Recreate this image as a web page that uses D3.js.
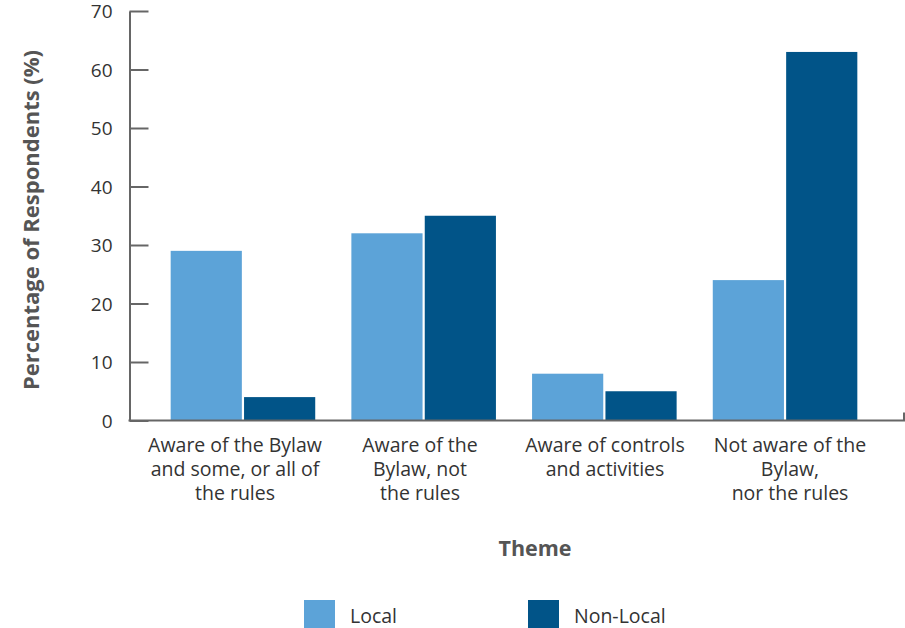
<!DOCTYPE html>
<html><head><meta charset="utf-8">
<script src="https://cdn.jsdelivr.net/npm/d3@7"></script>
<style>
body{margin:0;background:#fff;}
text{font-family:"Open Sans",sans-serif;}
</style></head>
<body><svg id="c" width="905" height="628"></svg>
<script>
const categories = [
  ["Aware of the Bylaw","and some, or all of","the rules"],
  ["Aware of the","Bylaw, not","the rules"],
  ["Aware of controls","and activities"],
  ["Not aware of the","Bylaw,","nor the rules"]
];
const seriesNames = ["Local","Non-Local"];
const localValues = [29, 32, 8, 24];
const nonLocalValues = [4, 35, 5, 63];
const yTicks = [0,10,20,30,40,50,60,70];
const colors = ["#5ca3d8","#015488"];

const svg = d3.select("#c");
const y = d3.scaleLinear().domain([0,70]).range([420.5,11]);
const x0 = d3.scaleBand().domain(d3.range(4)).range([152.6,875.4]).paddingInner(0.2).paddingOuter(0.1);
const x1 = d3.scaleBand().domain(seriesNames).range([0,x0.bandwidth()]).paddingInner(0.03);
// label positions (labels sit on a slightly wider spacing than the bars)
const xl = d3.scalePoint().domain(d3.range(4)).range([235,790]);

const data = categories.map((c,i)=>({i, vals:[{k:"Local",v:localValues[i]},{k:"Non-Local",v:nonLocalValues[i]}]}));

svg.append("g").selectAll("g.grp").data(data).join("g").attr("class","grp")
  .attr("transform",d=>`translate(${x0(d.i)},0)`)
  .selectAll("rect").data(d=>d.vals).join("rect")
  .attr("x",d=>x1(d.k)).attr("width",x1.bandwidth())
  .attr("y",d=>y(d.v)).attr("height",d=>y(0)-y(d.v))
  .attr("fill",d=>colors[seriesNames.indexOf(d.k)]);

// y axis
const yAxis = svg.append("g").attr("transform","translate(129.5,0)")
  .call(d3.axisRight(y).tickValues(yTicks).tickSize(19).tickSizeOuter(0).tickFormat(d3.format("d")));
yAxis.select(".domain").attr("stroke","#666").attr("stroke-width",2);
yAxis.selectAll(".tick line").attr("stroke","#666").attr("stroke-width",2);
yAxis.selectAll(".tick text").attr("x",-17).attr("text-anchor","end")
  .attr("font-size",19).attr("fill","#333").attr("font-family","Open Sans").attr("dy","0.36em");

// x axis baseline
const xs = d3.scaleLinear().domain([0,1]).range([128.5,904]);
const xAxis = svg.append("g").attr("transform",`translate(0,${y(0)})`)
  .call(d3.axisTop(xs).tickValues([]).tickSizeOuter(8));
xAxis.select(".domain").attr("stroke","#666").attr("stroke-width",2)
  .attr("d",`M${xs(0)},0H${xs(1)}V-8`);

// category labels
svg.append("g").selectAll("text").data(categories).join("text")
  .attr("x",(d,i)=>xl(i)).attr("y",452)
  .attr("text-anchor","middle").attr("font-size",19.5).attr("fill","#333")
  .selectAll("tspan").data(d=>d).join("tspan")
  .attr("x",function(){return this.parentNode.getAttribute("x");})
  .attr("dy",(d,i)=>i?24:0).text(d=>d);

// axis titles
svg.append("text").attr("transform","translate(39,220) rotate(-90)")
  .attr("text-anchor","middle").attr("font-size",22).attr("font-weight","bold").attr("fill","#555")
  .text("Percentage of Respondents (%)");
svg.append("text").attr("x",535).attr("y",556).attr("text-anchor","middle")
  .attr("font-size",21.5).attr("font-weight","bold").attr("fill","#555").text("Theme");

// legend
const legX = [304,528];
const leg = svg.append("g").selectAll("g").data(seriesNames).join("g")
  .attr("transform",(d,i)=>`translate(${legX[i]},600)`);
leg.append("rect").attr("width",31).attr("height",28).attr("fill",(d,i)=>colors[i]);
leg.append("text").attr("x",46).attr("y",23).attr("font-size",19.5).attr("fill","#333").text(d=>d);
</script></body></html>
